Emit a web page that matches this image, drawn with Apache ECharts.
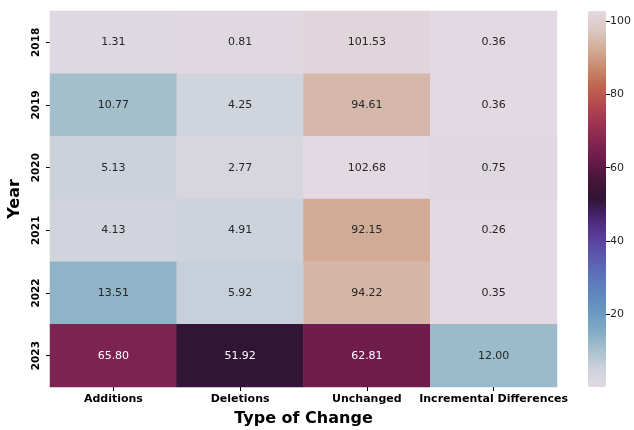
<!DOCTYPE html>
<html lang="en">
<head>
    <meta charset="UTF-8"/>
    <title>Type of Change by Year</title>
    <script src="https://cdn.jsdelivr.net/npm/echarts@6/dist/echarts.min.js"></script>
    <style>
        html, body { margin: 0; padding: 0; background: #fff; }
    </style>
</head>
<body>
<div id="main" style="width: 634px;height: 430px;"></div>
<script type="text/javascript">
    // data
    var changeTypes = ['Additions', 'Deletions', 'Unchanged', 'Incremental Differences'];
    var years = ['2018', '2019', '2020', '2021', '2022', '2023'];
    var additions   = [1.31, 10.77, 5.13, 4.13, 13.51, 65.80];
    var deletions   = [0.81, 4.25, 2.77, 4.91, 5.92, 51.92];
    var unchanged   = [101.53, 94.61, 102.68, 92.15, 94.22, 62.81];
    var incremental = [0.36, 0.36, 0.75, 0.26, 0.35, 12.00];
    var colorbarTicks = [20, 40, 60, 80, 100];

    // twilight-like colormap
    var twilight = ['#e2d9e2', '#cbd2dc', '#a6c0cc', '#80aac6', '#6a98c1', '#5f86bd',
        '#5d71b9', '#5b58ae', '#5a3d9b', '#4b2573', '#2f1436', '#461639', '#671a4a',
        '#832553', '#9d3350', '#b2494e', '#c0644f', '#c98a6f', '#d2ad98', '#dbc8c2', '#e2d9e2'];

    var columns = [additions, deletions, unchanged, incremental];
    var all = [].concat(additions, deletions, unchanged, incremental);
    var vmin = Math.min.apply(null, all);
    var vmax = Math.max.apply(null, all);

    var cells = [];
    columns.forEach(function (col, x) {
        col.forEach(function (v, y) {
            var dark = v > 30 && v < 78;
            cells.push({value: [x, y, v], label: {color: dark ? '#ffffff' : '#262626'}});
        });
    });

    var font = 'DejaVu Sans';
    var myChart = echarts.init(document.getElementById('main'));
    myChart.setOption({
        animation: false,
        textStyle: {fontFamily: font},
        grid: [
            {left: 50, top: 11, width: 507, height: 376, outerBoundsMode: 'none', containLabel: false},
            {left: 588, top: 11, width: 18, height: 376, outerBoundsMode: 'none', containLabel: false}
        ],
        xAxis: [{
            type: 'category',
            gridIndex: 0,
            data: changeTypes,
            name: 'Type of Change',
            nameLocation: 'middle',
            nameGap: 24,
            nameTextStyle: {fontSize: 16, fontWeight: 'bold', color: '#000', fontFamily: font},
            axisLine: {show: false},
            axisTick: {show: true, alignWithLabel: true, length: 4, lineStyle: {color: '#000'}},
            axisLabel: {interval: 0, hideOverlap: false, fontSize: 11, fontWeight: 'bold', color: '#000', margin: 7, fontFamily: font},
            splitLine: {show: false}
        }, {
            type: 'category',
            gridIndex: 1,
            data: [''],
            show: false
        }],
        yAxis: [{
            type: 'category',
            gridIndex: 0,
            data: years,
            inverse: true,
            name: 'Year',
            nameLocation: 'middle',
            nameGap: 23,
            nameRotate: 90,
            nameTextStyle: {fontSize: 16, fontWeight: 'bold', color: '#000', fontFamily: font},
            axisLine: {show: false},
            axisTick: {show: true, alignWithLabel: true, length: 4, lineStyle: {color: '#000'}},
            axisLabel: {interval: 0, fontSize: 10.5, fontWeight: 'bold', color: '#000', rotate: 90, margin: 8, fontFamily: font},
            splitLine: {show: false}
        }, {
            type: 'value',
            gridIndex: 1,
            position: 'right',
            min: vmin,
            max: vmax,
            axisLine: {show: false},
            axisTick: {show: true, length: 4, customValues: colorbarTicks, lineStyle: {color: '#000'}},
            axisLabel: {fontSize: 11, color: '#262626', margin: 4, customValues: colorbarTicks, fontFamily: font},
            splitLine: {show: false}
        }],
        visualMap: {
            type: 'continuous',
            min: vmin,
            max: vmax,
            seriesIndex: 0,
            show: true,
            calculable: false,
            realtime: false,
            left: 588,
            top: 11,
            padding: 0,
            itemWidth: 18,
            itemHeight: 376,
            text: null,
            showLabel: false,
            inRange: {color: twilight}
        },
        series: [{
            type: 'heatmap',
            xAxisIndex: 0,
            yAxisIndex: 0,
            data: cells,
            label: {
                show: true,
                fontSize: 11,
                fontFamily: font,
                formatter: function (p) { return p.value[2].toFixed(2); }
            },
            emphasis: {disabled: true}
        }]
    });
</script>
</body>
</html>
